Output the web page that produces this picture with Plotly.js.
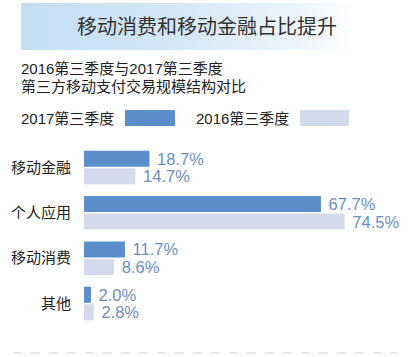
<!DOCTYPE html>
<html>
<head>
<meta charset="utf-8">
<script src="https://cdn.plot.ly/plotly-3.0.1.min.js"></script>
<style>html,body{margin:0;padding:0;background:#fff;}#chart{width:419px;height:357px;}</style>
</head>
<body>
<div id="chart"></div>
<script>
const categories = ['移动金融', '个人应用', '移动消费', '其他'];
const values2017 = [18.7, 67.7, 11.7, 2.0];
const values2016 = [14.7, 74.5, 8.6, 2.8];
const seriesNames = ['2017第三季度', '2016第三季度'];
const titleText = '移动消费和移动金融占比提升';
const subtitleLines = ['2016第三季度与2017第三季度', '第三方移动支付交易规模结构对比'];

const W = 419, H = 357;
const C2017 = '#5b8ecb', C2016 = '#d5d9ec', LABEL = '#6b8fc2';
const FONT = 'Liberation Sans, Arial, Noto Sans CJK SC, sans-serif';
const fmt = v => '\u00a0' + v.toFixed(1) + '%';

const x0px = 84, pxPerUnit = 3.5;
const yTop = 144.8, yBot = 326.2;

const banner = {
  type: 'scatter', mode: 'lines', xaxis: 'x2', yaxis: 'y2',
  x: [21, 358, 358, 21, 21], y: [3, 3, 50, 50, 3],
  line: {width: 0, color: 'rgba(0,0,0,0)'},
  fill: 'toself',
  fillgradient: {type: 'horizontal', colorscale: [[0, '#c4def3'], [0.45, '#d3e7f7'], [0.8, '#ebf4fb'], [1, '#ffffff']]},
  hoverinfo: 'skip', showlegend: false
};

const t2017 = {
  type: 'bar', orientation: 'h', name: seriesNames[0],
  y: categories, x: values2017, marker: {color: C2017},
  text: values2017.map(fmt), textposition: 'outside', cliponaxis: false,
  constraintext: 'none',
  textfont: {family: FONT, size: 16.5, color: LABEL},
  hoverinfo: 'skip', showlegend: false
};
const t2016 = {
  type: 'bar', orientation: 'h', name: seriesNames[1],
  y: categories, x: values2016, marker: {color: C2016},
  text: values2016.map(fmt), textposition: 'outside', cliponaxis: false,
  constraintext: 'none',
  textfont: {family: FONT, size: 16.5, color: LABEL},
  hoverinfo: 'skip', showlegend: false
};

const layout = {
  width: W, height: H,
  margin: {l: 0, r: 0, t: 0, b: 0},
  paper_bgcolor: '#fff', plot_bgcolor: 'rgba(0,0,0,0)',
  showlegend: false,
  barmode: 'group', bargap: 0.227, bargroupgap: 0.09,
  xaxis: {
    domain: [x0px / W, 1], range: [0, (W - x0px) / pxPerUnit],
    visible: false, fixedrange: true
  },
  yaxis: {
    domain: [(H - yBot) / H, (H - yTop) / H],
    type: 'category', categoryorder: 'array', categoryarray: categories,
    range: [3.5, -0.5],
    showgrid: false, zeroline: false, showline: false, ticks: '',
    ticklabelstandoff: 12,
    tickfont: {family: 'Noto Sans CJK SC, sans-serif', size: 15, color: '#222'},
    fixedrange: true
  },
  xaxis2: {domain: [0, 1], range: [0, W], visible: false, anchor: 'y2', fixedrange: true},
  yaxis2: {domain: [0, 1], range: [H, 0], visible: false, anchor: 'x2', fixedrange: true},
  shapes: [
    {type: 'rect', xref: 'x2', yref: 'y2', x0: 125, x1: 175, y0: 110, y1: 126, fillcolor: C2017, line: {width: 0}},
    {type: 'rect', xref: 'x2', yref: 'y2', x0: 300, x1: 349, y0: 110, y1: 126, fillcolor: C2016, line: {width: 0}},
    {type: 'line', xref: 'x2', yref: 'y2', x0: 13, x1: 397, y0: 353, y1: 353, line: {color: '#cfcfcf', width: 1, dash: 'dash'}}
  ],
  annotations: [
    {xref: 'x2', yref: 'y2', x: 206.5, y: 25, text: titleText, showarrow: false,
     xanchor: 'center', yanchor: 'middle', font: {family: 'Noto Sans CJK SC, sans-serif', size: 20, color: '#333'}},
    {xref: 'x2', yref: 'y2', x: 19, y: 68, text: subtitleLines[0], showarrow: false,
     xanchor: 'left', yanchor: 'middle', font: {family: FONT, size: 15, color: '#222'}},
    {xref: 'x2', yref: 'y2', x: 19, y: 86, text: subtitleLines[1], showarrow: false,
     xanchor: 'left', yanchor: 'middle', font: {family: FONT, size: 15, color: '#222'}},
    {xref: 'x2', yref: 'y2', x: 19, y: 118, text: seriesNames[0], showarrow: false,
     xanchor: 'left', yanchor: 'middle', font: {family: FONT, size: 15, color: '#222'}},
    {xref: 'x2', yref: 'y2', x: 194, y: 118, text: seriesNames[1], showarrow: false,
     xanchor: 'left', yanchor: 'middle', font: {family: FONT, size: 15, color: '#222'}}
  ]
};

Plotly.newPlot('chart', [banner, t2017, t2016], layout, {displayModeBar: false, staticPlot: true});
</script>
</body>
</html>
